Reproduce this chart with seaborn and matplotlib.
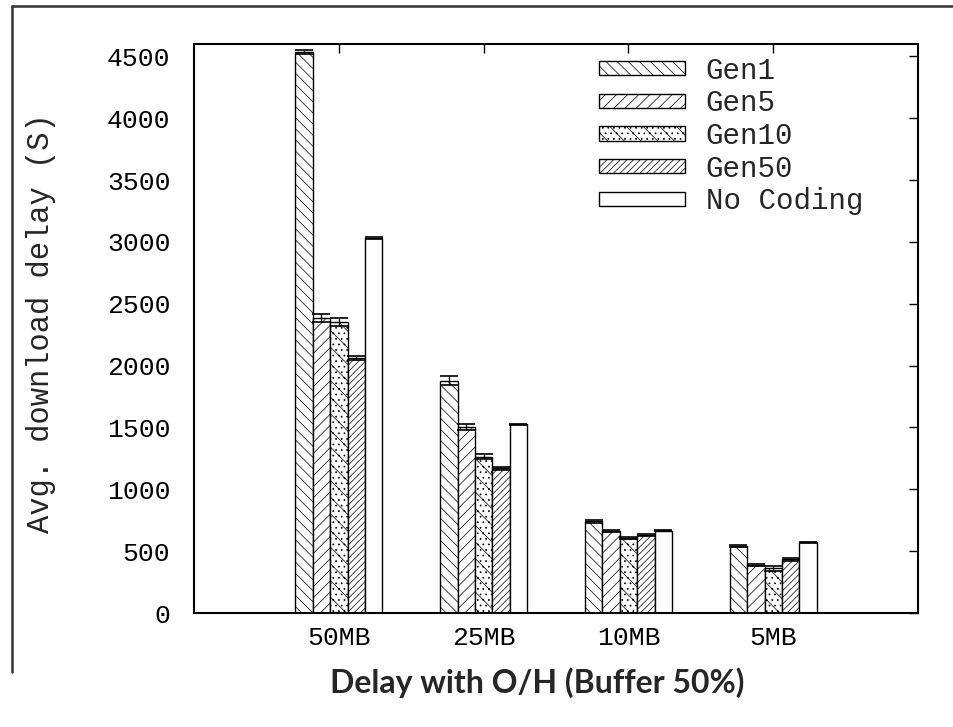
import matplotlib
matplotlib.use("Agg")
import matplotlib.pyplot as plt
import matplotlib.lines as mlines
import numpy as np
import pandas as pd
import seaborn as sns

# data
sizes = ["50MB", "25MB", "10MB", "5MB"]
schemes = ["Gen1", "Gen5", "Gen10", "Gen50", "No Coding"]
gen1 = [4535, 1878, 740, 538]
gen5 = [2385, 1501, 664, 386]
gen10 = [2352, 1264, 604, 362]
gen50 = [2061, 1170, 630, 434]
no_coding = [3032, 1525, 664, 572]
gen1_err = [20, 35, 12, 8]
gen5_err = [30, 25, 8, 10]
gen10_err = [30, 20, 8, 20]
gen50_err = [15, 10, 8, 12]
no_coding_err = [10, 5, 5, 5]

values = [gen1, gen5, gen10, gen50, no_coding]
errors = [gen1_err, gen5_err, gen10_err, gen50_err, no_coding_err]
hatches = ["\\\\\\", "///", "\\\\...", "/////", ""]

rows = []
for s, vals, errs in zip(schemes, values, errors):
    for size, v, e in zip(sizes, vals, errs):
        rows.append({"size": size, "scheme": s, "delay": v, "err": e})
df = pd.DataFrame(rows)

sns.set_theme(style="white")
plt.rcParams["font.family"] = ["Liberation Mono", "DejaVu Sans Mono"]
plt.rcParams["hatch.linewidth"] = 0.5

fig = plt.figure(figsize=(9.54, 7.27), dpi=100)
ax = fig.add_axes([0.2034, 0.1568, 0.7589, 0.7827])

sns.barplot(
    data=df, x="size", y="delay", hue="scheme", order=sizes, hue_order=schemes,
    palette=["white"] * len(schemes), edgecolor="black", linewidth=1.0,
    width=0.6, errorbar=None, ax=ax, saturation=1,
)

for cont, h, errs in zip(ax.containers, hatches, errors):
    xs, ys = [], []
    for bar in cont:
        bar.set_hatch(h)
        xs.append(bar.get_x() + bar.get_width() / 2)
        ys.append(bar.get_height())
    ax.errorbar(xs, ys, yerr=errs, fmt="none", ecolor="black",
                elinewidth=1.0, capsize=6.5, capthick=1.2)

ax.set_xlim(-1, 4)
ax.set_ylim(0, 4600)
ax.set_yticks(np.arange(0, 4501, 500))
ax.set_xlabel("")
ax.set_ylabel("Avg. download delay (S)", fontsize=22)
ax.yaxis.set_label_coords(-0.19, 0.51)
ax.tick_params(axis="both", direction="in", length=6.5, width=1.0,
               top=True, right=True, labelsize=19, colors="black")
ax.tick_params(axis="y", pad=17)
ax.tick_params(axis="x", pad=9)
for sp in ax.spines.values():
    sp.set_color("black")
    sp.set_linewidth(1.5)

handles, labels = ax.get_legend_handles_labels()
for hd, h in zip(handles, hatches):
    hd.set_hatch(h)
ax.legend(handles, labels, loc="upper left", bbox_to_anchor=(0.628, 0.922),
          bbox_transform=fig.transFigure, frameon=False, fontsize=21,
          handlelength=2.95, handleheight=0.38, handletextpad=0.7,
          labelspacing=0.16, borderpad=0, borderaxespad=0)

# partial frame of the original screenshot
fig.add_artist(mlines.Line2D([0.0126, 0.0126], [0.9917, 0.0757],
                             transform=fig.transFigure, color="#333333", lw=1.8))
fig.add_artist(mlines.Line2D([0.0126, 1.0], [0.9917, 0.9917],
                             transform=fig.transFigure, color="#333333", lw=1.8))

fig.text(0.563, 0.0605, "Delay with O/H (Buffer 50%)", ha="center", va="center",
         fontsize=23, fontweight="bold", family=["Lato", "DejaVu Sans"])

fig.savefig("out.png", dpi=100)
